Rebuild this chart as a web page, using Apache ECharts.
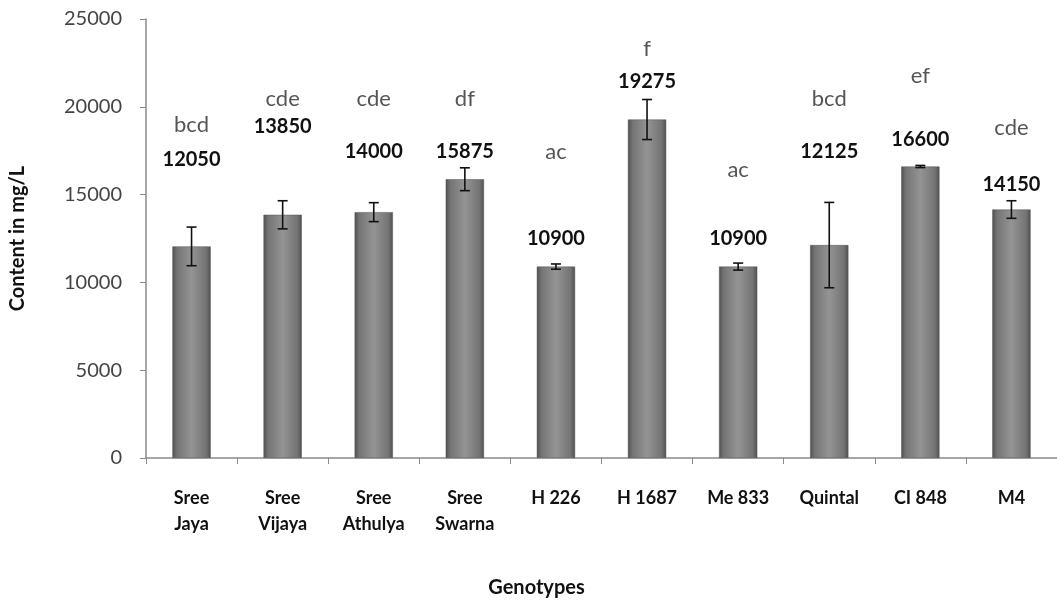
<!DOCTYPE html>
<html>
<head>
<meta charset="utf-8">
<script src="https://cdn.jsdelivr.net/npm/echarts@6/dist/echarts.min.js"></script>
<style>html,body{margin:0;padding:0;background:#fff}#c{width:1057px;height:604px}</style>
</head>
<body>
<div id="c"></div>
<script>
const categories = ['Sree\nJaya','Sree\nVijaya','Sree\nAthulya','Sree\nSwarna','H 226','H 1687','Me 833','Quintal','CI 848','M4'];
const values = [12050, 13850, 14000, 15875, 10900, 19275, 10900, 12125, 16600, 14150];
const errors = [1100, 800, 540, 650, 150, 1140, 200, 2430, 60, 500];
const letters = ['bcd','cde','cde','df','ac','f','ac','bcd','ef','cde'];
// heights (in data units) where the value labels and letters sit in the picture
const valueLabelAt = [16970, 18850, 17480, 17430, 12470, 21410, 12470, 17430, 18110, 15600];
const letterAt = [18960, 20440, 20440, 20440, 17430, 23290, 16400, 20440, 21750, 18810];
const yTicks = [0, 5000, 10000, 15000, 20000, 25000];

const FONT = 'Lato, "Open Sans", sans-serif';
const chart = echarts.init(document.getElementById('c'), null, {renderer: 'canvas'});

const textSeries = (name, arrY, texts, style) => ({
  type: 'custom', name, z: 10,
  data: arrY.map((y, i) => [i, y, texts[i]]),
  renderItem: (params, api) => {
    const p = api.coord([api.value(0), api.value(1)]);
    return {type: 'text', x: p[0], y: p[1], style: Object.assign({
      text: String(texts[params.dataIndex]), align: 'center', verticalAlign: 'middle'}, style)};
  }
});

chart.setOption({
  animation: false,
  backgroundColor: '#fff',
  grid: {left: 146, right: 0, top: 19, bottom: 146, containLabel: false, outerBoundsMode: 'none'},
  xAxis: {
    type: 'category', data: categories, boundaryGap: true,
    name: 'Genotypes', nameLocation: 'middle', nameGap: 120,
    nameTextStyle: {fontFamily: FONT, fontWeight: 'bold', fontSize: 20, color: '#111', padding: [0, 130, 0, 0]},
    axisLine: {lineStyle: {color: '#8a8a8a', width: 1.5}},
    axisTick: {show: true, alignWithLabel: false, length: 6, lineStyle: {color: '#8a8a8a'}},
    axisLabel: {fontFamily: FONT, fontWeight: 'bold', fontSize: 18, color: '#111', margin: 27, lineHeight: 26, interval: 0}
  },
  yAxis: {
    type: 'value', min: 0, max: 25000, interval: 5000,
    name: 'Content in mg/L', nameLocation: 'middle', nameGap: 118, nameRotate: 90,
    nameTextStyle: {fontFamily: FONT, fontWeight: 'bold', fontSize: 20, color: '#111'},
    axisLine: {show: true, lineStyle: {color: '#8a8a8a', width: 1.5}},
    axisTick: {show: true, length: 6, lineStyle: {color: '#8a8a8a'}},
    splitLine: {show: false},
    axisLabel: {fontFamily: FONT, fontSize: 20, color: '#444', margin: 24,
      formatter: v => yTicks.includes(v) ? String(v) : ''}
  },
  series: [
    {
      type: 'bar', data: values, barWidth: '42%',
      itemStyle: {
        color: new echarts.graphic.LinearGradient(0, 0, 1, 0, [
          {offset: 0, color: '#505050'},
          {offset: 0.12, color: '#747474'},
          {offset: 0.5, color: '#949494'},
          {offset: 0.88, color: '#747474'},
          {offset: 1, color: '#505050'}
        ]),
        borderColor: '#555', borderWidth: 0.5
      }
    },
    {
      type: 'custom', name: 'err', z: 5,
      data: values.map((v, i) => [i, v - errors[i], v + errors[i]]),
      renderItem: (params, api) => {
        const lo = api.coord([api.value(0), api.value(1)]);
        const hi = api.coord([api.value(0), api.value(2)]);
        const x = lo[0], w = 5;
        const st = {stroke: '#111', lineWidth: 1.6};
        return {type: 'group', children: [
          {type: 'line', shape: {x1: x, y1: lo[1], x2: x, y2: hi[1]}, style: st},
          {type: 'line', shape: {x1: x - w, y1: lo[1], x2: x + w, y2: lo[1]}, style: st},
          {type: 'line', shape: {x1: x - w, y1: hi[1], x2: x + w, y2: hi[1]}, style: st}
        ]};
      }
    },
    textSeries('vals', valueLabelAt, values, {fontFamily: FONT, fontWeight: 'bold', fontSize: 20, fill: '#111'}),
    textSeries('letters', letterAt, letters, {fontFamily: FONT, fontSize: 22, fill: '#555'})
  ]
});
</script>
</body>
</html>
